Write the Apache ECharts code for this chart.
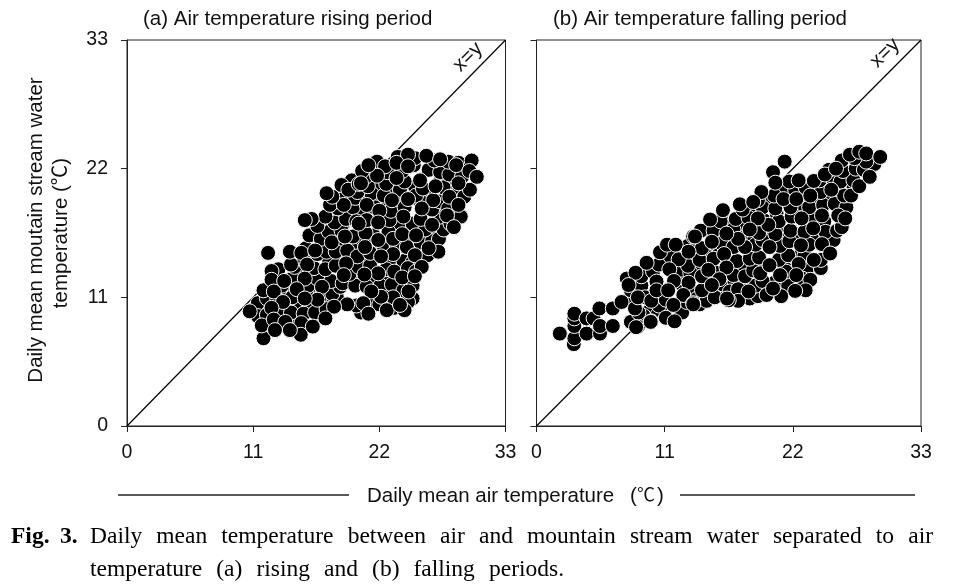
<!DOCTYPE html>
<html><head><meta charset="utf-8">
<script src="https://cdn.jsdelivr.net/npm/echarts@6/dist/echarts.min.js"></script>
<style>html,body{margin:0;padding:0;background:#fff}#c{width:953px;height:587px}</style>
</head><body><div id="c"></div>
<script>
const axisTicks = [0, 11, 22, 33];
const identityLine = [[0, 0], [33, 33]];
const panelTitles = ['(a) Air temperature rising period', '(b) Air temperature falling period'];
const risingBase = [
[11.4,10.5],[12.2,10.9],[13.1,11.7],[14.0,11.4],[15.0,10.1],[16.0,10.0],[16.0,11.5],[17.2,10.6],[18.3,11.0],[18.0,12.0],
[13.2,13.4],[14.9,12.9],[15.2,13.4],[16.1,12.6],[16.9,13.0],[17.6,13.9],[18.6,14.3],[19.6,14.0],[20.6,14.2],[21.7,14.6],
[22.9,14.2],[24.1,14.1],[24.9,14.0],[20.4,12.3],[21.6,12.5],[22.7,12.6],[23.7,11.8],[22.9,11.4],[24.9,12.0],[16.0,14.2],
[16.9,15.3],[17.2,15.9],[18.4,15.8],[19.6,15.5],[20.5,16.0],[21.5,16.3],[22.7,15.9],[24.2,15.4],[24.9,15.7],[25.7,15.3],
[17.0,17.0],[17.9,17.1],[18.8,17.2],[19.5,17.9],[20.6,18.0],[21.4,18.0],[22.8,18.1],[23.7,17.2],[24.9,16.8],[25.7,17.2],
[26.4,16.5],[27.2,17.3],[19.0,19.6],[20.5,19.4],[21.8,20.2],[22.9,20.3],[23.9,19.6],[25.1,20.5],[26.2,20.0],[27.3,20.9],
[28.4,20.3],[22.0,19.2],[25.6,19.2],[29.0,20.3],[11.4,9.4],[12.2,9.5],[13.3,8.9],[14.7,9.3],[16.7,9.4],[24.9,10.9]
];
const risingFill = [
[13.2,9.6],[14.3,9.7],[15.4,9.6],[16.4,9.7],[17.4,10.0],[13.1,10.8],[14.4,11.0],[15.6,11.4],[16.8,11.0],[17.9,11.3],
[18.6,11.9],[13.5,12.0],[14.4,12.6],[15.8,12.0],[16.6,12.6],[17.8,12.4],[18.8,12.2],[19.9,12.0],[20.9,11.9],[22.1,12.0],
[23.1,12.1],[24.1,11.6],[14.6,13.6],[15.4,14.2],[16.3,13.5],[17.3,13.4],[18.2,13.7],[19.4,13.0],[20.2,13.6],[21.2,13.7],
[22.6,13.4],[23.3,13.2],[24.5,13.5],[25.2,13.2],[15.6,15.2],[16.6,14.7],[17.4,14.9],[18.2,14.9],[19.2,15.0],[20.1,14.5],
[21.2,14.8],[22.4,15.3],[23.5,15.5],[24.4,15.3],[25.9,14.3],[26.2,14.6],[15.9,16.3],[16.9,16.0],[17.6,16.6],[18.7,16.7],
[19.7,16.2],[20.8,16.5],[22.8,16.6],[23.2,16.0],[25.6,15.7],[26.6,15.8],[27.2,16.0],[16.6,17.1],[18.1,17.4],[19.1,17.7],
[20.9,17.6],[22.9,17.6],[24.9,17.3],[26.0,16.8],[27.6,16.8],[18.4,18.6],[19.7,18.7],[21.6,18.7],[23.0,18.4],[24.2,18.7],
[25.6,17.7],[27.3,17.9],[28.2,17.3],[19.9,19.5],[21.3,19.9],[22.4,19.7],[23.8,20.2],[25.2,19.7],[26.6,18.5],[27.3,19.2],
[28.0,18.6],[29.1,17.9],[20.1,20.0],[21.0,20.5],[22.6,20.7],[24.2,20.9],[25.8,20.3],[27.6,20.4],[29.4,19.6],[29.9,20.2],
[22.7,21.7],[24.0,21.8],[25.0,22.3],[26.3,21.9],[27.3,21.7],[28.1,21.5],[29.2,21.3],[23.6,23.0],[25.1,22.9],[26.8,22.7],
[28.0,22.6],[28.9,22.5],[21.8,22.6],[22.5,22.2],[20.8,21.3],[19.6,21.0],[21.2,10.6],[22.0,10.4],[23.3,10.1],[24.5,10.6],
[24.2,9.9],[20.4,9.7],[20.0,10.3]
];
const risingTop = [
[12.3,14.8],[11.9,7.5],[11.75,8.6],[10.7,9.8],[11.9,11.6],[12.6,13.25],[12.6,12.5],[12.8,11.5],[13.7,12.4],[14.3,13.8],
[14.2,14.9],[15.2,14.8],[16.4,15.0],[15.7,13.8],[15.5,12.6],[14.8,11.7],[17.0,11.9],[17.85,15.7],[19.0,16.2],[17.3,17.9],
[16.1,17.7],[15.5,17.6],[17.7,18.9],[18.9,18.9],[17.9,19.6],[17.4,19.9],[18.7,20.6],[19.3,20.2],[20.2,20.7],[20.5,21.8],
[20.0,17.5],[19.1,13.9],[18.9,12.9],[19.2,10.4],[18.05,10.2],[16.6,10.8],[15.5,10.9],[13.6,10.6],[12.6,10.1],[12.8,9.1],
[13.8,8.9],[15.2,8.8],[15.15,7.8],[14.2,8.2],[12.9,8.2],[16.2,8.5],[17.3,9.2],[24.5,23.2],[23.5,22.5],[24.5,22.2],
[26.1,23.1],[27.3,22.8],[28.7,22.3],[30.05,22.7],[29.85,21.8],[30.5,21.3],[28.9,20.75],[28.1,19.6],[26.7,19.3],[26.9,20.5],
[25.55,21.0],[23.5,21.2],[21.8,21.4],[21.05,22.3],[20.4,20.75],[24.5,19.4],[23.1,19.3],[20.9,18.9],[22.0,18.4],[21.9,17.4],
[20.2,17.3],[24.1,17.9],[25.7,18.6],[26.6,17.2],[27.9,18.0],[28.9,18.9],[28.5,17.0],[24.0,16.4],[25.2,16.3],[21.9,15.9],
[20.75,15.3],[23.2,14.7],[22.15,14.5],[25.1,14.6],[27.15,14.9],[26.3,15.2],[25.7,13.6],[24.0,12.7],[25.1,12.8],[21.9,13.05],
[20.7,12.95],[23.2,11.0],[22.15,11.05],[21.3,11.5],[20.6,10.5],[21.05,9.6],[22.65,9.9],[23.8,10.35],[24.55,11.5]
];
const fallingBase = [
[8.0,10.8],[8.1,11.6],[9.0,12.0],[9.0,12.8],[10.0,13.2],[10.5,13.8],[9.8,10.0],[10.8,9.9],[11.5,14.5],[12.4,13.2],
[12.9,14.0],[13.3,11.4],[14.0,10.4],[14.6,11.4],[15.4,11.5],[16.0,11.2],[16.0,12.1],[17.0,12.3],[18.0,12.3],[19.3,12.0],
[20.5,12.3],[21.7,12.5],[13.9,13.5],[14.5,14.6],[15.6,14.6],[16.5,14.1],[17.8,13.5],[19.2,14.1],[21.3,14.0],[22.2,14.4],
[23.2,13.4],[24.4,13.5],[13.7,15.1],[14.9,16.6],[15.6,16.2],[16.5,15.6],[17.9,16.2],[18.7,16.0],[20.1,16.0],[21.2,16.6],
[22.3,16.4],[23.6,16.2],[24.9,16.0],[16.4,17.3],[17.6,17.4],[19.5,17.6],[20.6,18.2],[22.4,18.3],[23.0,17.5],[24.7,17.5],
[18.2,18.4],[19.6,19.1],[21.2,20.2],[22.8,19.0],[24.9,19.5],[25.9,19.4],[24.0,19.3],[26.0,21.4],[27.2,20.3],[28.5,22.1]
];
const fallingFill = [
[9.2,9.4],[10.4,9.5],[12.5,9.7],[12.9,10.6],[10.5,10.3],[9.3,11.0],[13.8,10.9],[14.6,10.7],[15.3,11.0],[18.3,10.9],
[19.0,11.1],[12.5,12.1],[14.2,11.6],[16.6,11.5],[17.3,11.7],[18.8,12.0],[21.6,12.0],[13.2,13.1],[14.2,12.8],[15.4,13.1],
[16.9,12.9],[17.9,12.8],[18.6,13.3],[19.4,12.4],[21.4,13.2],[22.8,12.6],[13.0,13.7],[14.0,14.2],[15.2,14.3],[17.2,14.1],
[18.3,14.3],[19.1,14.4],[20.8,14.2],[21.6,14.6],[23.0,14.6],[24.4,14.2],[13.0,15.4],[14.2,15.2],[15.9,15.6],[16.9,15.3],
[18.8,15.5],[19.4,15.9],[20.9,15.4],[21.7,15.8],[23.4,15.5],[24.9,15.4],[25.5,15.9],[14.1,16.7],[15.2,16.7],[16.9,16.8],
[19.1,16.5],[20.5,16.4],[21.8,16.7],[23.0,16.6],[24.8,16.6],[25.8,16.7],[15.8,17.5],[17.1,17.7],[18.2,17.8],[20.8,17.5],
[21.9,17.9],[23.6,17.8],[26.2,17.0],[17.7,18.5],[19.4,18.7],[20.5,18.6],[21.8,18.7],[23.4,18.7],[24.6,18.9],[25.6,19.0],
[26.6,18.7],[19.0,19.3],[20.4,19.7],[22.2,20.2],[23.1,20.4],[24.4,20.0],[26.4,19.7],[27.0,19.7],[21.7,20.9],[22.5,21.0],
[24.3,21.0],[25.4,21.2],[26.1,20.9],[27.2,21.0],[27.7,20.5],[25.1,21.9],[26.3,21.8],[27.4,22.0],[28.1,21.9],[29.0,22.4],
[28.3,22.6],[26.2,22.7],[27.3,22.9]
];
const fallingTop = [
[2.0,7.9],[3.2,7.0],[3.25,7.5],[3.25,8.55],[3.25,9.2],[3.25,9.6],[4.3,7.9],[4.3,9.2],[4.9,9.2],[5.45,7.9],
[5.45,8.55],[5.4,10.05],[6.55,8.55],[6.55,10.05],[7.3,10.6],[8.1,8.9],[8.7,8.5],[8.75,9.7],[8.45,10.05],[8.7,11.0],
[9.85,10.7],[9.85,8.95],[11.1,9.25],[11.85,8.95],[11.1,10.8],[7.75,12.6],[8.5,13.1],[7.9,12.05],[9.45,13.95],[10.6,14.85],
[11.2,15.5],[11.95,15.5],[12.2,14.25],[11.4,13.4],[11.8,12.4],[13.05,12.25],[10.3,12.35],[10.3,11.6],[11.3,11.6],[12.6,11.2],
[11.75,10.35],[13.05,14.9],[13.45,16.2],[21.3,22.6],[20.3,21.7],[20.5,20.8],[19.3,20.0],[21.2,19.4],[22.3,19.4],[23.5,19.7],
[23.8,20.95],[24.75,21.5],[25.3,20.2],[25.7,22.0],[26.9,23.2],[27.7,23.45],[28.3,23.3],[29.5,23.0],[28.6,21.3],[24.5,18.0],
[25.9,18.0],[26.5,17.75],[22.75,17.75],[23.75,16.9],[24.5,15.55],[25.2,14.75],[22.7,15.45],[20.0,15.3],[19.9,17.2],[19.0,17.75],
[18.3,16.8],[17.9,15.3],[17.3,16.0],[16.3,16.45],[15.05,15.75],[13.6,16.2],[16.1,14.7],[14.75,13.35],[16.3,13.55],[15.7,12.55],
[19.2,13.05],[20.0,13.75],[23.8,14.2],[22.5,13.85],[20.9,12.9],[22.3,12.9],[23.5,12.5],[23.1,11.6],[22.2,11.55],[21.0,11.1],
[19.75,11.2],[20.3,11.75],[17.3,10.7],[16.5,10.75],[15.05,12.05],[13.45,10.5],[18.2,11.5],[16.0,18.45],[17.45,18.95],[18.6,19.15],
[14.9,17.65],[8.55,8.45],[9.8,8.9],[13.45,10.4],[16.35,10.9]
];

const ink = '#222';
const grids = [
  {left:127, top:40, width:378.5, height:386, show:true, borderColor:ink, borderWidth:1, backgroundColor:'transparent'},
  {left:536.5, top:40, width:384.5, height:386, show:true, borderColor:ink, borderWidth:1, backgroundColor:'transparent'}
];
const axisBase = {
  type:'value', min:axisTicks[0], max:axisTicks[3], interval:axisTicks[1], splitLine:{show:false},
  axisLine:{show:true, onZero:false, lineStyle:{color:ink, width:1}},
  axisTick:{show:true, length:6, lineStyle:{color:ink, width:1}},
  axisLabel:{show:true, color:'#111', fontFamily:'Liberation Sans', fontSize:19.5, margin:8}
};
const xAxis = grids.map((g,i)=>Object.assign({}, axisBase, {gridIndex:i, position:'bottom',
  axisLabel:Object.assign({}, axisBase.axisLabel, {margin:17, hideOverlap:false})}));
const yAxis = grids.map((g,i)=>Object.assign({}, axisBase, {gridIndex:i, position:'left',
  axisLabel:Object.assign({}, axisBase.axisLabel, {show:i===0, margin:19})}));
function scatter(i, data, z){
  return {type:'scatter', xAxisIndex:i, yAxisIndex:i, data, symbol:'circle', symbolSize:15, z, silent:true, clip:false, animation:false,
    itemStyle:{color:'#000', borderColor:'#fff', borderWidth:1, opacity:1}};
}
function diag(i){
  return {type:'line', xAxisIndex:i, yAxisIndex:i, data:identityLine, symbol:'none', z:1, silent:true, animation:false,
    lineStyle:{color:'#000', width:1.2}};
}
const series = [diag(0), scatter(0,risingBase,2), scatter(0,risingFill,3), scatter(0,risingTop,4),
                diag(1), scatter(1,fallingBase,2), scatter(1,fallingFill,3), scatter(1,fallingTop,4)];

const sans = 'Liberation Sans, Noto Sans CJK KR';
const serif = '23.5px Liberation Serif';
function text(t, x, y, o){
  return {type:'text', x, y, rotation:(o&&o.rot)||0, z:10, silent:true,
    style:{text:t, x:0, y:0, fill:(o&&o.fill)||'#111', font:(o&&o.font)||('20.5px '+sans),
      textAlign:(o&&o.align)||'left', textVerticalAlign:'middle', textBaseline:'middle'}};
}
const measure = document.createElement('canvas').getContext('2d');
function justified(line, x0, x1, y){
  measure.font = serif;
  const words = line.split(' ');
  const total = words.reduce((s,w)=>s+measure.measureText(w).width, 0);
  const gap = (x1-x0-total)/(words.length-1);
  let x = x0; const out = [];
  words.forEach(w=>{ out.push(text(w, x, y, {font:serif, fill:'#000'})); x += measure.measureText(w).width+gap; });
  return out;
}
function hline(x1,x2,y){ return {type:'line', z:10, silent:true, shape:{x1,y1:y,x2,y2:y}, style:{stroke:'#222', lineWidth:1.5}}; }
const graphics = [
  text(panelTitles[0], 143, 19),
  text(panelTitles[1], 553, 19),
  text('x=y', 468, 57, {rot:Math.PI/4, align:'center'}),
  text('x=y', 885, 53, {rot:Math.PI/4, align:'center'}),
  text('Daily mean moutain stream water', 36, 230, {rot:Math.PI/2, align:'center'}),
  text('temperature (℃)', 61, 233, {rot:Math.PI/2, align:'center'}),
  hline(118,349,495), hline(680,915,495),
  text('Daily mean air temperature', 367, 496),
  text('(', 630, 496),
  text('℃', 637, 496, {font:'18px '+sans}),
  text(')', 657, 496),
  text('Fig.', 11, 537, {font:'bold '+serif, fill:'#000'}),
  text('3.', 60, 537, {font:'bold '+serif, fill:'#000'}),
  ...justified('Daily mean temperature between air and mountain stream water separated to air', 90, 933, 537),
  ...justified('temperature (a) rising and (b) falling periods.', 90, 564, 570)
];
const chart = echarts.init(document.getElementById('c'), null, {renderer:'canvas'});
chart.setOption({animation:false, backgroundColor:'#fff', grid:grids, xAxis, yAxis, series, graphic:{elements:graphics}});
</script></body></html>
